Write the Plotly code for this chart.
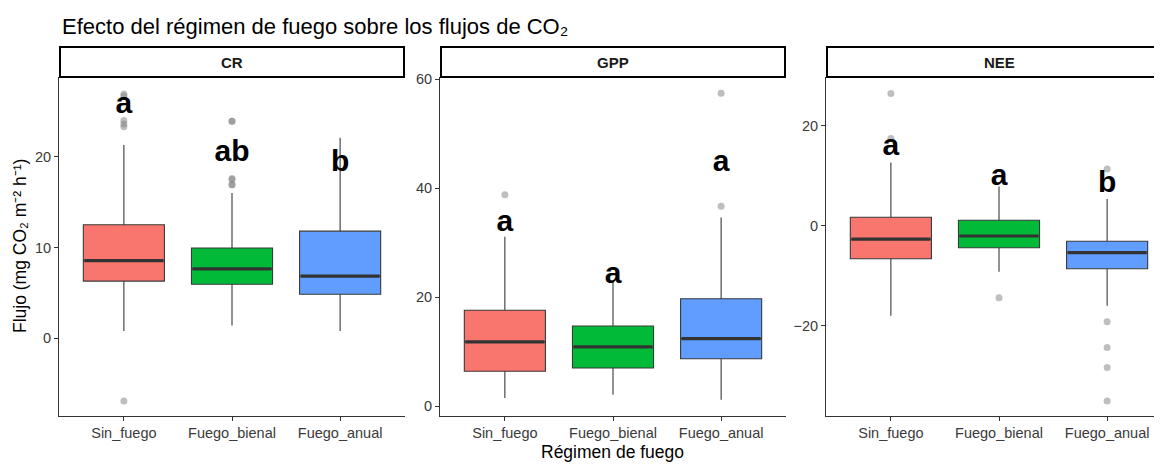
import plotly.graph_objects as go

# ---------------- data ----------------
groups = ["Sin_fuego", "Fuego_bienal", "Fuego_anual"]
colors = ["#F8766D", "#00BA38", "#619CFF"]
panels = ["CR", "GPP", "NEE"]

cr_q1 = [6.3, 5.95, 4.85]
cr_median = [8.55, 7.65, 6.85]
cr_q3 = [12.5, 9.95, 11.8]
cr_lower = [0.8, 1.4, 0.8]
cr_upper = [21.3, 16.0, 22.1]
cr_out_sin = [26.9, 26.7, 24.0, 23.6, 23.3, -6.9]
cr_out_bienal = [23.9, 23.9, 17.6, 17.5, 16.9, 16.9]
cr_out_anual = []
cr_letters = ["a", "ab", "b"]
cr_letter_y = [25.6, 20.35, 19.25]

gpp_q1 = [6.4, 7.0, 8.7]
gpp_median = [11.8, 10.9, 12.4]
gpp_q3 = [17.6, 14.7, 19.7]
gpp_lower = [1.5, 2.1, 1.2]
gpp_upper = [31.1, 22.9, 34.6]
gpp_out_sin = [38.8]
gpp_out_bienal = []
gpp_out_anual = [57.4, 36.7]
gpp_letters = ["a", "a", "a"]
gpp_letter_y = [33.5, 24.0, 44.6]

nee_q1 = [-6.6, -4.4, -8.6]
nee_median = [-2.7, -2.06, -5.4]
nee_q3 = [1.67, 1.07, -3.1]
nee_lower = [-18.0, -9.2, -16.0]
nee_upper = [12.6, 7.8, 5.3]
nee_out_sin = [26.4, 17.4]
nee_out_bienal = [-14.4]
nee_out_anual = [11.3, -19.2, -24.3, -28.3, -35.0]
nee_letters = ["a", "a", "b"]
nee_letter_y = [15.6, 9.6, 8.3]

cr_ticks = [0, 10, 20]
gpp_ticks = [0, 20, 40, 60]
nee_ticks = [-20, 0, 20]

# ---------------- layout helpers ----------------
# page body has an 8px default margin: the figure starts at (8, 8) in the window
OX, OY = 8, 8
WIN_W, WIN_H = 1162, 464
W, H = WIN_W - OX, WIN_H - OY


def xp(px):
    return (px - OX) / W


def yp(py):
    return 1 - (py - OY) / H


FONT = "Liberation Sans, Arial, sans-serif"
panel_px = [(59, 405), (440, 786), (826, 1172)]
plot_top, plot_bot = 77, 416
strip_top = 47
unit = (405 - 59) / 3.2
yranges = [[-8.56, 28.78], [-1.8, 60.4], [-38.0, 29.68]]

stats = [
    (cr_q1, cr_median, cr_q3, cr_lower, cr_upper,
     [cr_out_sin, cr_out_bienal, cr_out_anual], cr_letters, cr_letter_y, cr_ticks),
    (gpp_q1, gpp_median, gpp_q3, gpp_lower, gpp_upper,
     [gpp_out_sin, gpp_out_bienal, gpp_out_anual], gpp_letters, gpp_letter_y, gpp_ticks),
    (nee_q1, nee_median, nee_q3, nee_lower, nee_upper,
     [nee_out_sin, nee_out_bienal, nee_out_anual], nee_letters, nee_letter_y, nee_ticks),
]

fig = go.Figure()
box_w = 0.75
shapes = []
annotations = []
layout_axes = {}

for p, (q1, med, q3, lo, up, outs, letters, ly, ticks) in enumerate(stats):
    xa = "x" if p == 0 else f"x{p+1}"
    ya = "y" if p == 0 else f"y{p+1}"
    xs = [1, 2, 3]
    for i in range(3):
        fig.add_trace(go.Box(
            x=[xs[i]], q1=[q1[i]], median=[med[i]], q3=[q3[i]],
            lowerfence=[lo[i]], upperfence=[up[i]],
            width=box_w, whiskerwidth=0, fillcolor=colors[i],
            line=dict(color="#3a3a3a", width=1.1), boxpoints=False,
            xaxis=xa, yaxis=ya, showlegend=False, hoverinfo="skip"))
        fig.add_trace(go.Scatter(
            x=[xs[i] - box_w / 2 + 0.01, xs[i] + box_w / 2 - 0.01], y=[med[i], med[i]],
            mode="lines", line=dict(color="#333333", width=3.2),
            xaxis=xa, yaxis=ya, showlegend=False, hoverinfo="skip"))
        if outs[i]:
            fig.add_trace(go.Scatter(
                x=[xs[i]] * len(outs[i]), y=outs[i], mode="markers",
                marker=dict(color="rgba(128,128,128,0.5)", size=7, line=dict(width=0)),
                xaxis=xa, yaxis=ya, showlegend=False, hoverinfo="skip"))
    fig.add_trace(go.Scatter(
        x=xs, y=ly, mode="text", text=letters, textposition="middle center",
        textfont=dict(family=FONT, size=30, color="black", weight="bold"),
        xaxis=xa, yaxis=ya, showlegend=False, hoverinfo="skip"))

    x0px, x1px = panel_px[p]
    x1c = min(x1px, WIN_W)
    dom = [xp(x0px), xp(x1c)]
    xmax = 0.4 + (x1c - x0px) / unit
    ydom = [yp(plot_bot), yp(plot_top)]
    axis_common = dict(showline=True, linecolor="#333333", linewidth=1,
                       ticks="outside", ticklen=4, tickcolor="#333333", tickwidth=1,
                       showgrid=False, zeroline=False, automargin=False,
                       tickfont=dict(family=FONT, size=14.5, color="#3a3a3a"))
    layout_axes["xaxis" if p == 0 else f"xaxis{p+1}"] = dict(
        domain=dom, range=[0.4, xmax], tickvals=xs, ticktext=groups,
        anchor=ya, **axis_common)
    layout_axes["yaxis" if p == 0 else f"yaxis{p+1}"] = dict(
        domain=ydom, range=yranges[p], tickvals=ticks, anchor=xa, **axis_common)

    # strip
    shapes.append(dict(type="rect", xref="paper", yref="paper",
                       x0=xp(x0px + 1), x1=xp(x1px - 1),
                       y0=yp(plot_top), y1=yp(strip_top),
                       line=dict(color="black", width=2), fillcolor="white", layer="above"))
    annotations.append(dict(text=f"<b>{panels[p]}</b>", xref="paper", yref="paper",
                            x=xp((x0px + x1px) / 2), y=yp((strip_top + plot_top) / 2),
                            showarrow=False, xanchor="center", yanchor="middle",
                            font=dict(family=FONT, size=15, color="#1a1a1a")))

annotations.append(dict(text="Flujo (mg CO₂ m⁻² h⁻¹)", xref="paper", yref="paper",
                        x=xp(20), y=yp(246), textangle=-90, showarrow=False,
                        xanchor="center", yanchor="middle",
                        font=dict(family=FONT, size=17.5, color="black")))
annotations.append(dict(text="Régimen de fuego", xref="paper", yref="paper",
                        x=xp(612), y=yp(452), showarrow=False,
                        xanchor="center", yanchor="middle",
                        font=dict(family=FONT, size=17.5, color="black")))
annotations.append(dict(text="Efecto del régimen de fuego sobre los flujos de CO₂",
                        xref="paper", yref="paper", x=xp(60), y=yp(27),
                        showarrow=False, xanchor="left", yanchor="middle",
                        font=dict(family=FONT, size=22, color="black")))

fig.update_layout(
    width=W, height=H,
    margin=dict(l=0, r=0, t=0, b=0, pad=0),
    paper_bgcolor="white", plot_bgcolor="white",
    boxmode="overlay",
    template="none",
    shapes=shapes, annotations=annotations,
    **layout_axes,
)

fig.write_html("out.html")
